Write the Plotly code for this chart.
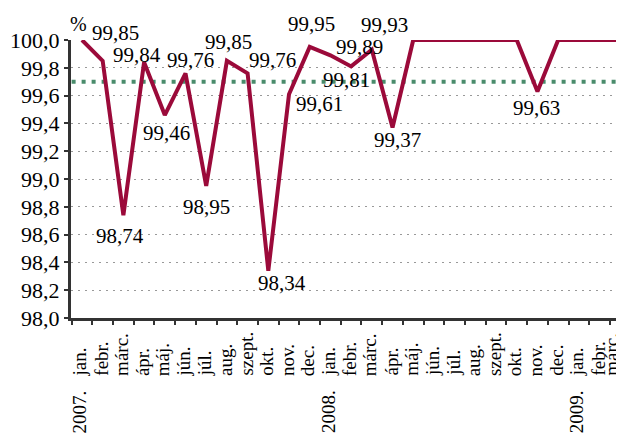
import plotly.graph_objects as go

months = ["jan.", "febr.", "márc.", "ápr.", "máj.", "jún.", "júl.", "aug.",
          "szept.", "okt.", "nov.", "dec.",
          "jan.", "febr.", "márc.", "ápr.", "máj.", "jún.", "júl.", "aug.",
          "szept.", "okt.", "nov.", "dec.",
          "jan.", "febr.", "márc."]
years = {0: "2007.", 12: "2008.", 24: "2009."}
values = [100.0, 99.85, 98.74, 99.84, 99.46, 99.76, 98.95, 99.85, 99.76, 98.34, 99.61, 99.95,
          99.89, 99.81, 99.93, 99.37, 100.0, 100.0, 100.0, 100.0, 100.0, 100.0, 99.63, 100.0,
          100.0, 100.0, 100.0]
target = 99.7
y_ticks = [98.0, 98.2, 98.4, 98.6, 98.8, 99.0, 99.2, 99.4, 99.6, 99.8, 100.0]

# label offsets in pixels (index: (xshift, yshift))
label_pos = {1: (13, 28), 2: (-3, -21), 3: (-7, 7), 4: (2, -18), 5: (5, 13),
             6: (0, -21), 7: (2, 19), 8: (25, 13), 9: (14, -12), 10: (30, -10),
             11: (2, 23), 12: (29, 8), 13: (-5, -14), 14: (13, 25), 15: (5, -12),
             22: (-1, -17)}

FONT = "'Liberation Serif', 'Times New Roman', serif"
idx = list(range(len(months)))

fig = go.Figure()
fig.add_trace(go.Scatter(x=[idx[0] - 0.5, idx[-1] + 0.5], y=[target, target], mode="lines",
                         line=dict(color="#4a8c6c", width=4, dash="4px,6px"),
                         hoverinfo="skip", showlegend=False))
fig.add_trace(go.Scatter(x=idx, y=values, mode="lines", cliponaxis=False,
                         line=dict(color="#9b0a3a", width=4),
                         showlegend=False))

for i, (dx, dy) in label_pos.items():
    fig.add_annotation(x=i, y=values[i], text=f"{values[i]:.2f}".replace(".", ","),
                       showarrow=False, xshift=dx, yshift=dy,
                       font=dict(family=FONT, size=21, color="black"))

# two-level category labels: months rotated, years underneath
for i, m in enumerate(months):
    fig.add_annotation(x=i, xref="x", y=0, yref="paper", text=m, textangle=-90,
                       showarrow=False, xanchor="center", yanchor="bottom",
                       xshift=-9 if i == len(months) - 1 else -2, yshift=-60,
                       font=dict(family=FONT, size=19, color="black"))
for i, yr in years.items():
    fig.add_annotation(x=i, xref="x", y=0, yref="paper", text=yr, textangle=-90,
                       showarrow=False, xanchor="center", yanchor="top",
                       xshift=-2, yshift=-70,
                       font=dict(family=FONT, size=19, color="black"))

fig.add_annotation(xref="paper", yref="paper", x=0.0127, y=1.0, yshift=16,
                   xanchor="center", yanchor="middle",
                   text="%", showarrow=False,
                   font=dict(family=FONT, size=20, color="black"))

# the page adds an 8px body margin, so the plot box is shifted by that much
fig.update_layout(
    width=624, height=436,
    margin=dict(l=63, r=8, t=32, b=126, autoexpand=False),
    paper_bgcolor="white", plot_bgcolor="white",
    separators=", ",
    font=dict(family=FONT, color="black"),
    xaxis=dict(range=[-0.53, 26.18], showticklabels=False, ticks="",
               showgrid=False, zeroline=False, automargin=False,
               showline=True, linecolor="#333333", linewidth=3,
               minor=dict(tickmode="linear", tick0=0.5, dtick=1, ticks="outside",
                          ticklen=4, tickwidth=2, tickcolor="#333333", showgrid=False)),
    yaxis=dict(range=[98, 100], tickmode="array", tickvals=y_ticks, automargin=False,
               tickformat=".1f", ticks="outside", ticklen=4, tickwidth=2,
               tickcolor="#333333", showline=True, linecolor="#333333", linewidth=3,
               showgrid=True, gridcolor="#999999", griddash="2px,5px", gridwidth=1,
               zeroline=False,
               tickfont=dict(family=FONT, size=22, color="black")),
)

fig.write_html("out.html")
